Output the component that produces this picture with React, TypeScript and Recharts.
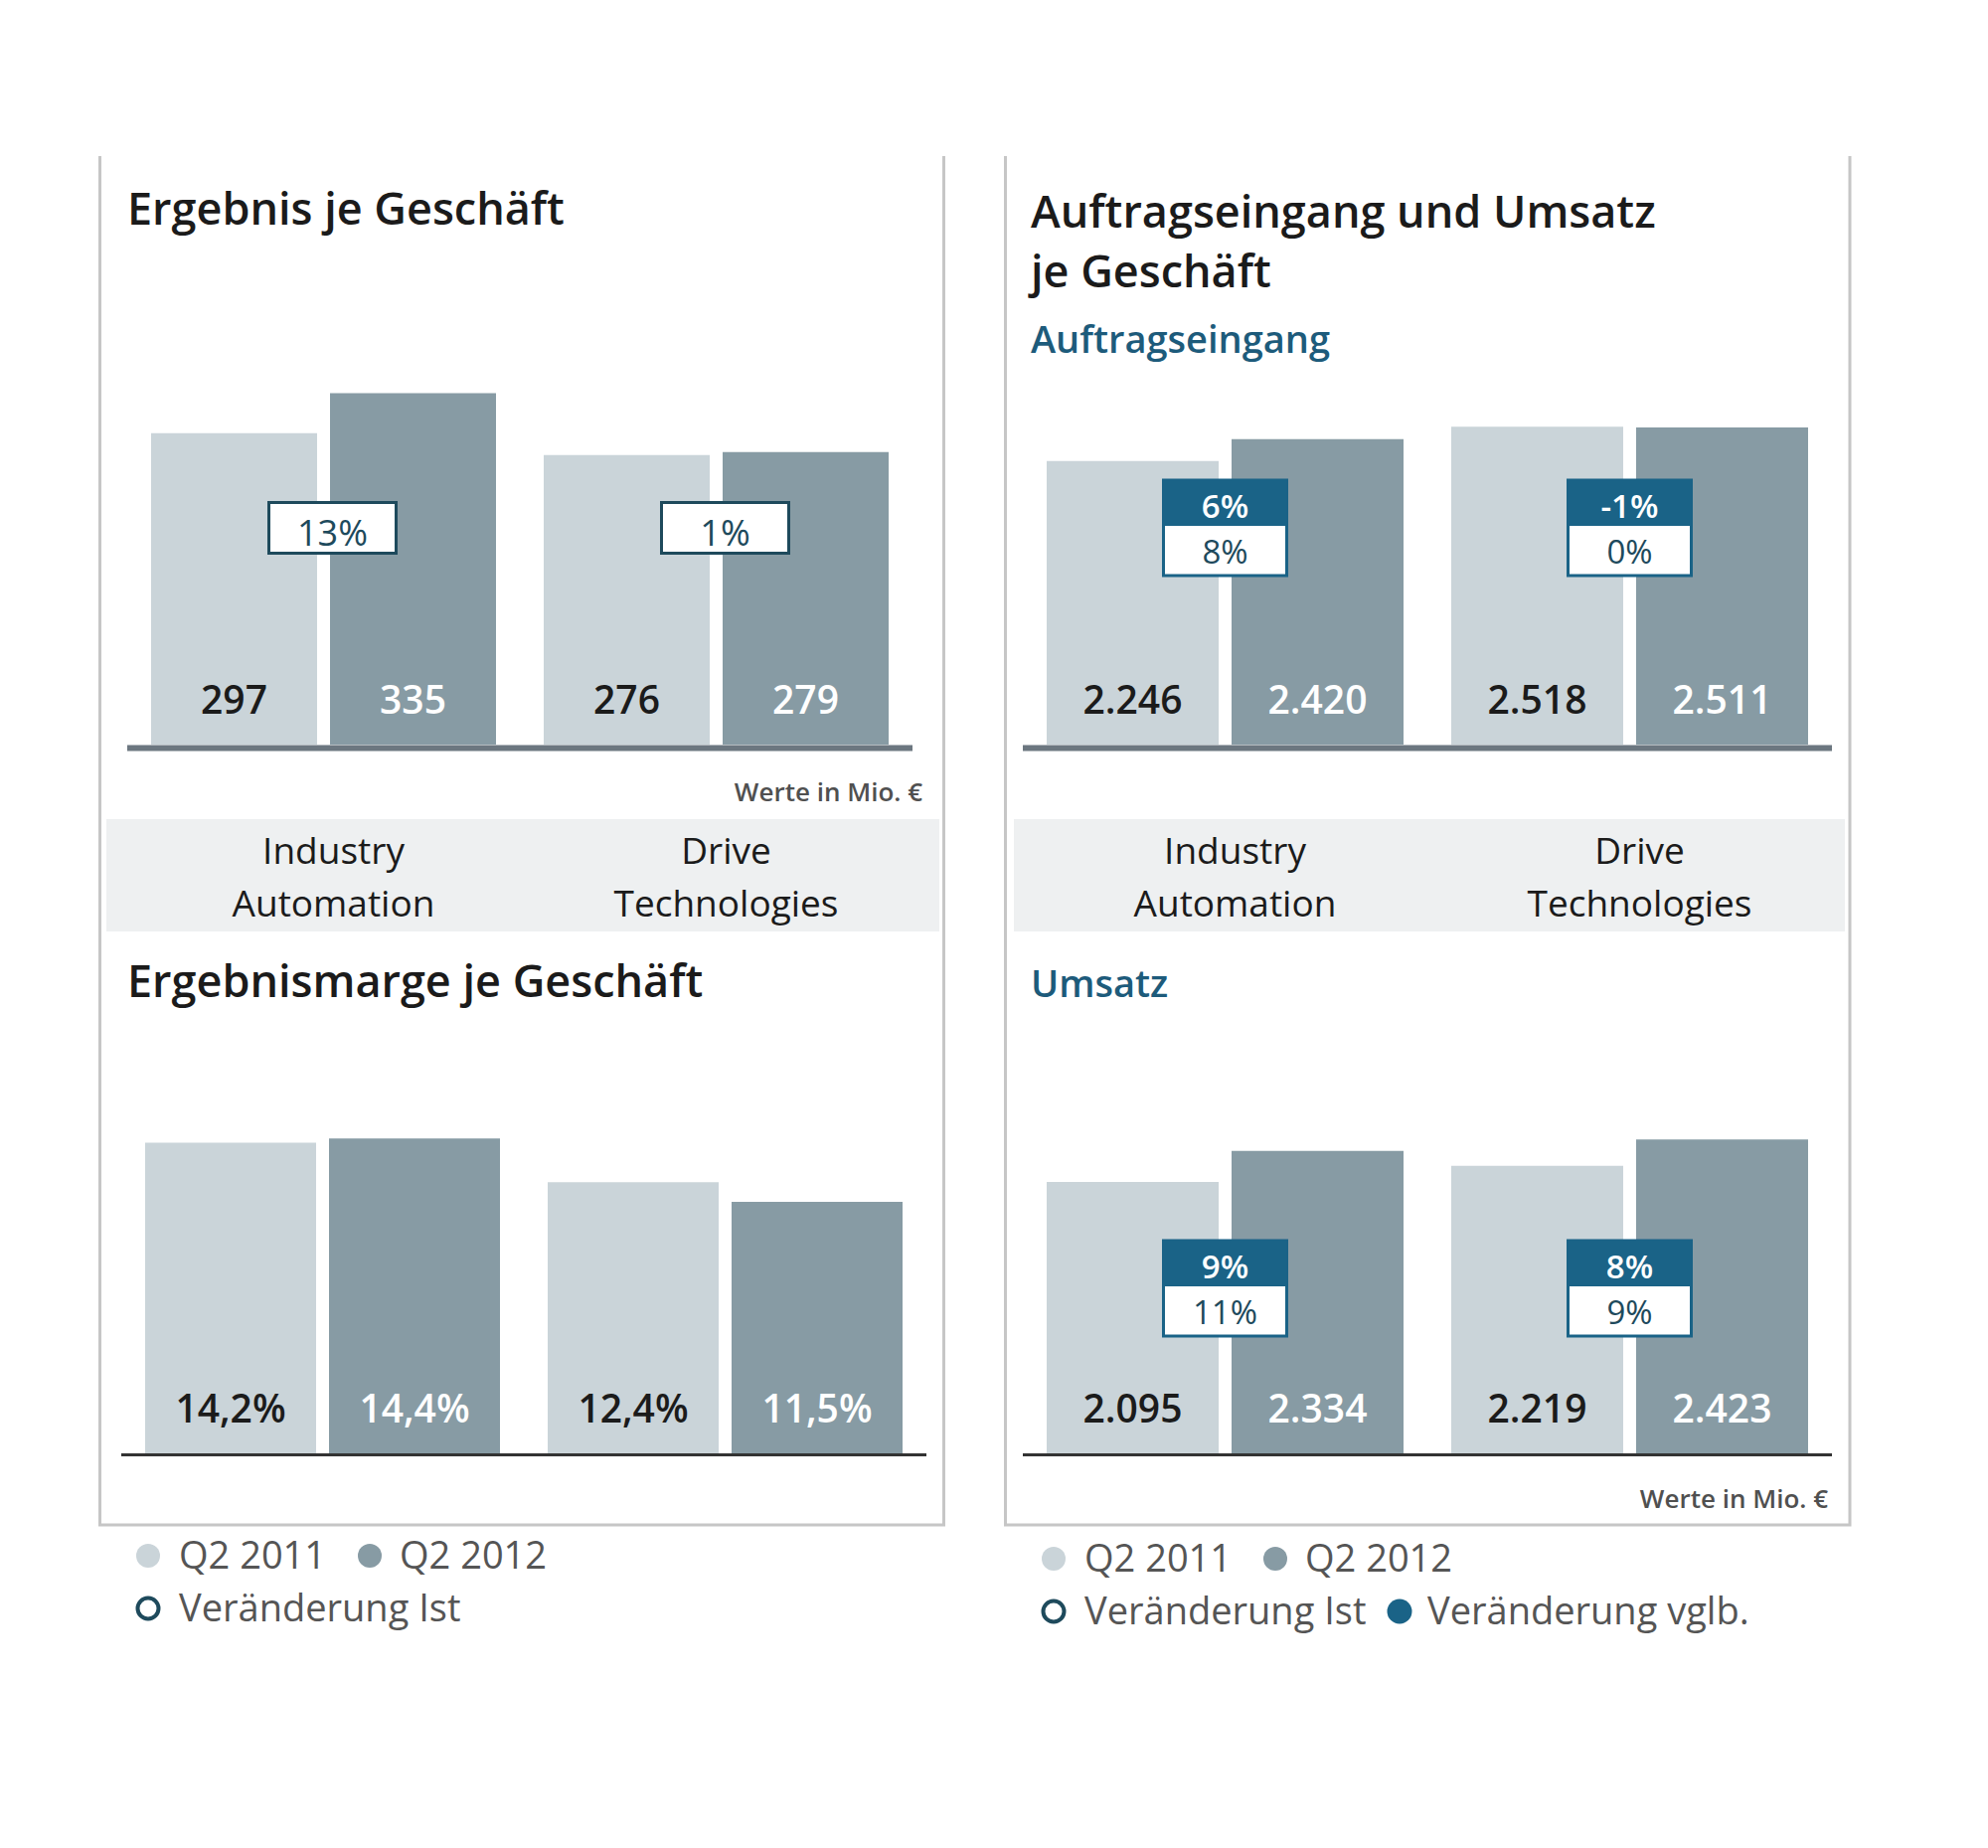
import React from "react";
import { Bar, BarChart, LabelList, XAxis, YAxis } from "recharts";

const FONT = "'Open Sans', 'Noto Sans', sans-serif";
const LIGHT = "#cad4d9";
const DARK = "#879ba4";
const PETROL = "#1a6387";
const INK = "#1e4a5c";
const TEXT = "#1b1b1b";
const GREY_TEXT = "#555";
const FRAME = "#c6c6c6";
const BAND = "#eef0f1";

// segments and periods
const segments = ["Industry Automation", "Drive Technologies"];
const segmentLines = [
  ["Industry", "Automation"],
  ["Drive", "Technologies"]
];
const periods = ["Q2 2011", "Q2 2012"];
const changeNames = ["Veränderung Ist", "Veränderung vglb."];

// Ergebnis (Mio. €)
const profit2011 = [297, 276];
const profit2012 = [335, 279];
const profitChange = ["13%", "1%"];

// Ergebnismarge (%)
const margin2011 = [14.2, 12.4];
const margin2012 = [14.4, 11.5];

// Auftragseingang (Mio. €)
const orders2011 = [2246, 2518];
const orders2012 = [2420, 2511];
const ordersChangeComparable = ["6%", "-1%"];
const ordersChangeActual = ["8%", "0%"];

// Umsatz (Mio. €)
const revenue2011 = [2095, 2219];
const revenue2012 = [2334, 2423];
const revenueChangeComparable = ["9%", "8%"];
const revenueChangeActual = ["11%", "9%"];

type Row = { name: string; q2011: number; q2012: number };

const toRows = (a: number[], b: number[]): Row[] =>
  segments.map((name, i) => ({ name, q2011: a[i], q2012: b[i] }));

const mio = (v: number) => String(v).replace(/\B(?=(\d{3})+(?!\d))/g, ".");
const pct = (v: number) => `${v.toFixed(1).replace(".", ",")}%`;

const valueLabel = (fill: string, format: (v: number) => string) => (props: any) => {
  const { x, y, width, height } = props.viewBox ?? props;
  return (
    <text
      x={x + width / 2}
      y={y + height - 31}
      textAnchor="middle"
      fill={fill}
      fontFamily={FONT}
      fontSize={39}
      fontWeight={600}
    >
      {format(Number(props.value))}
    </text>
  );
};

type BoxSpec = {
  actual: string[];
  comparable?: string[];
  rise: number;
  dx: number;
};

const changeBox = (box: BoxSpec, gap: number) => (props: any) => {
  const { x, y, height } = props.viewBox ?? props;
  const i = props.index;
  const cx = x - gap / 2 + box.dx;
  const cy = y + height - box.rise;

  if (!box.comparable) {
    const w = 128;
    const h = 51;
    const top = cy - h / 2;
    return (
      <g>
        <rect x={cx - w / 2} y={top} width={w} height={h} fill="#fff" stroke={INK} strokeWidth={3} />
        <text x={cx} y={top + 43} fill={INK} textAnchor="middle" fontFamily={FONT} fontSize={36}>
          {box.actual[i]}
        </text>
      </g>
    );
  }

  // comparable change on the petrol strip, actual change below it
  const w = 124;
  const h = 96;
  const split = 46;
  const top = cy - h / 2;
  const txt = { textAnchor: "middle" as const, fontFamily: FONT, fontSize: 33 };
  return (
    <g>
      <rect x={cx - w / 2} y={top} width={w} height={h} fill="#fff" stroke={PETROL} strokeWidth={3} />
      <rect x={cx - w / 2} y={top} width={w} height={split} fill={PETROL} />
      <text x={cx} y={top + 38} fill="#fff" fontWeight={600} {...txt}>
        {box.comparable[i]}
      </text>
      <text x={cx} y={top + 84} fill={INK} {...txt}>
        {box.actual[i]}
      </text>
    </g>
  );
};

const categoryTick = (dx: number) => (props: any) => {
  const { x, y, payload } = props;
  const lines = segmentLines[segments.indexOf(payload.value)] ?? [];
  return (
    <text
      x={x + dx}
      y={y + 120}
      textAnchor="middle"
      fill={TEXT}
      fontFamily={FONT}
      fontSize={37}
      fontWeight={500}
    >
      {lines.map((line, k) => (
        <tspan key={line} x={x + dx} y={y + 120 + k * 53}>
          {line}
        </tspan>
      ))}
    </text>
  );
};

type ChartProps = {
  left: number;
  top: number;
  width: number;
  plotHeight: number;
  axisHeight: number;
  max: number;
  rows: Row[];
  barSize: number;
  barGap: number;
  format: (v: number) => string;
  axisStroke: string;
  axisWidth: number;
  axisShift: number;
  categories?: boolean;
  box?: BoxSpec;
};

function SegmentChart(p: ChartProps) {
  return (
    <div style={{ position: "absolute", left: p.left, top: p.top }}>
      <BarChart
        width={p.width}
        height={p.plotHeight + p.axisHeight}
        data={p.rows}
        margin={{ top: 0, right: 0, bottom: 0, left: 0 }}
        barSize={p.barSize}
        barGap={p.barGap}
      >
        <XAxis
          dataKey="name"
          height={p.axisHeight}
          interval={0}
          tickLine={false}
          tickSize={0}
          tickMargin={0}
          axisLine={{
            stroke: p.axisStroke,
            strokeWidth: p.axisWidth,
            transform: `translate(0, ${p.axisShift})`
          }}
          tick={p.categories ? categoryTick(10) : false}
        />
        <YAxis hide domain={[0, p.max]} />
        <Bar dataKey="q2011" fill={LIGHT} isAnimationActive={false}>
          <LabelList dataKey="q2011" content={valueLabel(TEXT, p.format)} />
        </Bar>
        <Bar dataKey="q2012" fill={DARK} isAnimationActive={false}>
          <LabelList dataKey="q2012" content={valueLabel("#fff", p.format)} />
          {p.box && <LabelList dataKey="q2012" content={changeBox(p.box, p.barGap)} />}
        </Bar>
      </BarChart>
    </div>
  );
}

function Legend({ x, cy, withComparable }: { x: number; cy: number; withComparable: boolean }) {
  const label = { fontFamily: FONT, fontSize: 38, fill: GREY_TEXT };
  const row2 = cy + 53;
  return (
    <g>
      {periods.map((name, i) => (
        <g key={name}>
          <circle cx={x + i * 223} cy={cy} r={12} fill={i === 0 ? LIGHT : DARK} />
          <text x={x + 31 + i * 222} y={cy + 13} {...label}>
            {name}
          </text>
        </g>
      ))}
      <circle cx={x} cy={row2} r={10.5} fill="#fff" stroke={INK} strokeWidth={4} />
      <text x={x + 31} y={row2 + 13} {...label}>
        {changeNames[0]}
      </text>
      {withComparable && (
        <g>
          <circle cx={x + 348} cy={row2} r={12.5} fill={PETROL} />
          <text x={x + 376} y={row2 + 13} {...label}>
            {changeNames[1]}
          </text>
        </g>
      )}
    </g>
  );
}

function Backdrop() {
  const title = { fontFamily: FONT, fontSize: 45, fontWeight: 600, fill: TEXT };
  const sub = { fontFamily: FONT, fontSize: 38, fontWeight: 600, fill: "#1d5b7b" };
  const note = { fontFamily: FONT, fontSize: 26, fontWeight: 600, fill: "#505050", textAnchor: "end" as const };
  return (
    <svg width={2000} height={1859} style={{ position: "absolute", left: 0, top: 0 }}>
      {/* panel frames, open at the top */}
      <g stroke={FRAME} strokeWidth={3} fill="none">
        <path d="M100.5 157 V1534 H949.5 V157" />
        <path d="M1011.5 157 V1534 H1861 V157" />
      </g>
      {/* category bands */}
      <rect x={107} y={824} width={838} height={113} fill={BAND} />
      <rect x={1020} y={824} width={836} height={113} fill={BAND} />

      <text x={128} y={226} {...title}>Ergebnis je Geschäft</text>
      <text x={128} y={1003} {...title}>Ergebnismarge je Geschäft</text>
      <text x={1037} y={229} {...title}>Auftragseingang und Umsatz</text>
      <text x={1037} y={289} {...title}>je Geschäft</text>
      <text x={1037} y={355} {...sub}>Auftragseingang</text>
      <text x={1037} y={1003} {...sub}>Umsatz</text>

      <text x={928} y={806} {...note}>Werte in Mio. €</text>
      <text x={1839} y={1517} {...note}>Werte in Mio. €</text>

      <Legend x={149} cy={1565} withComparable={false} />
      <Legend x={1060} cy={1568} withComparable={true} />
    </svg>
  );
}

export default function App() {
  return (
    <div
      style={{
        position: "absolute",
        left: 0,
        top: 0,
        width: 2000,
        height: 1859,
        background: "#fff",
        fontFamily: FONT
      }}
    >
      <Backdrop />
      <SegmentChart
        left={128}
        top={327}
        width={790}
        plotHeight={422}
        axisHeight={190}
        max={400}
        rows={toRows(profit2011, profit2012)}
        barSize={167}
        barGap={13}
        format={mio}
        axisStroke="#6c7780"
        axisWidth={6}
        axisShift={3.5}
        categories
        box={{ actual: profitChange, rise: 218, dx: 9 }}
      />
      <SegmentChart
        left={122}
        top={1110}
        width={810}
        plotHeight={352}
        axisHeight={6}
        max={16}
        rows={toRows(margin2011, margin2012)}
        barSize={172}
        barGap={13}
        format={pct}
        axisStroke="#333"
        axisWidth={3}
        axisShift={1.5}
      />
      <SegmentChart
        left={1029}
        top={368}
        width={814}
        plotHeight={381}
        axisHeight={190}
        max={3000}
        rows={toRows(orders2011, orders2012)}
        barSize={173}
        barGap={13}
        format={mio}
        axisStroke="#6c7780"
        axisWidth={6}
        axisShift={3.5}
        categories
        box={{ actual: ordersChangeActual, comparable: ordersChangeComparable, rise: 218, dx: 0 }}
      />
      <SegmentChart
        left={1029}
        top={1071}
        width={814}
        plotHeight={391}
        axisHeight={6}
        max={3000}
        rows={toRows(revenue2011, revenue2012)}
        barSize={173}
        barGap={13}
        format={mio}
        axisStroke="#333"
        axisWidth={3}
        axisShift={1.5}
        box={{ actual: revenueChangeActual, comparable: revenueChangeComparable, rise: 166, dx: 0 }}
      />
    </div>
  );
}
